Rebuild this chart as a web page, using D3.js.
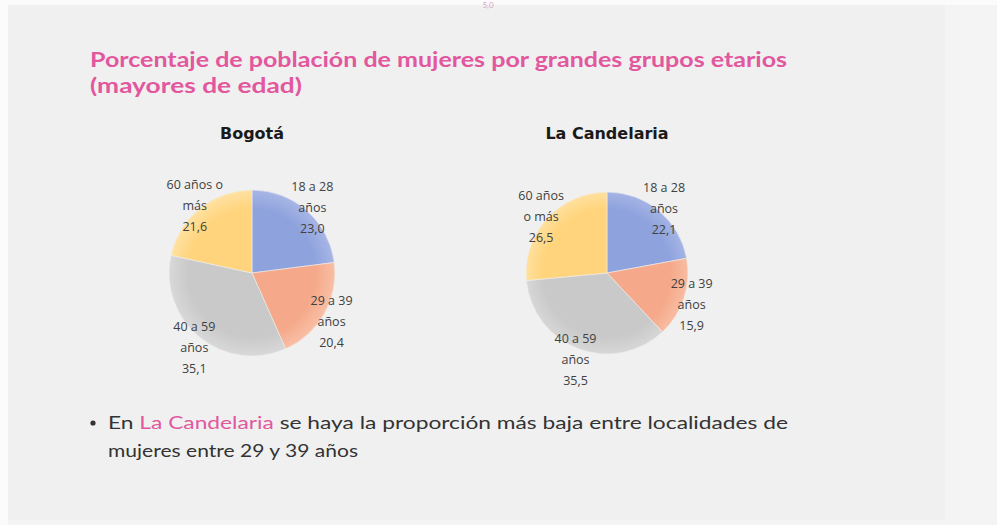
<!DOCTYPE html>
<html><head><meta charset="utf-8">
<script src="https://cdn.jsdelivr.net/npm/d3@7"></script>
<style>
html,body{margin:0;padding:0;background:#f4f4f4;}
svg{display:block;}
</style></head>
<body>
<script>
// ---- data ----
const groups = ["18 a 28 años", "29 a 39 años", "40 a 59 años", "60 años o más"];
const bogotaValues = [23.0, 20.4, 35.1, 21.6];
const candelariaValues = [22.1, 15.9, 35.5, 26.5];
const bogotaLabels = [["18 a 28", "años"], ["29 a 39", "años"], ["40 a 59", "años"], ["60 años o", "más"]];
const candelariaLabels = [["18 a 28", "años"], ["29 a 39", "años"], ["40 a 59", "años"], ["60 años", "o más"]];
const chartTitles = ["Bogotá", "La Candelaria"];
const titleLines = ["Porcentaje de población de mujeres por grandes grupos etarios", "(mayores de edad)"];
const bulletHighlight = "La Candelaria";

const W = 997, H = 525;
const svg = d3.select("body").append("svg").attr("width", W).attr("height", H);

// slide background
svg.append("rect").attr("x", 0).attr("y", 0).attr("width", W).attr("height", 5).attr("fill", "#fbfbfb");
svg.append("rect").attr("x", 0).attr("y", 0).attr("width", 8).attr("height", H).attr("fill", "#fbfbfb");
svg.append("rect").attr("x", 8).attr("y", 5).attr("width", 937).attr("height", 515).attr("fill", "#f0f0f0");

const colors = ["#8ea2dd", "#f5a98a", "#c9c9c9", "#ffd47c"];
const light = ["#aab8e6", "#f9c1a8", "#dadada", "#ffe3a6"];
const defs = svg.append("defs");
colors.forEach((c, i) => {
  const g = defs.append("radialGradient").attr("id", "g" + i).attr("gradientUnits", "userSpaceOnUse")
    .attr("cx", 0).attr("cy", 0).attr("r", 85);
  g.append("stop").attr("offset", "0%").attr("stop-color", c);
  g.append("stop").attr("offset", "75%").attr("stop-color", c);
  g.append("stop").attr("offset", "100%").attr("stop-color", light[i]);
});

// title
const title = svg.append("text").attr("x", 90).attr("y", 67)
  .attr("fill", "#e2579e").attr("font-family", "Lato, 'Noto Sans', sans-serif")
  .attr("font-weight", 700).attr("font-size", 20);
title.append("tspan").attr("x", 90).attr("y", 67).attr("textLength", 697).attr("lengthAdjust", "spacingAndGlyphs").text(titleLines[0]);
title.append("tspan").attr("x", 90).attr("y", 93).attr("textLength", 212).attr("lengthAdjust", "spacingAndGlyphs").text(titleLines[1]);

const fmt = v => d3.format(".1f")(v).replace(".", ",");
const pie = d3.pie().sort(null).value(d => d);

function drawPie(cx, cy, R, values, labels, name) {
  const g = svg.append("g").attr("transform", `translate(${cx},${cy})`);
  const arc = d3.arc().innerRadius(0).outerRadius(R);
  const labelArc = d3.arc().innerRadius(R * 1.1).outerRadius(R * 1.1);
  const arcs = pie(values);
  g.selectAll("path").data(arcs).join("path")
    .attr("d", arc).attr("fill", (d, i) => `url(#g${i})`)
    .attr("stroke", "#eeeeee").attr("stroke-width", 0.6);
  svg.append("text").attr("x", cx).attr("y", 139).attr("text-anchor", "middle")
    .attr("font-family", "'DejaVu Sans', sans-serif").attr("font-weight", 700)
    .attr("font-size", 16).attr("fill", "#1a1a1a").text(name);
  const lab = g.selectAll("text.lab").data(arcs).join("text").attr("class", "lab")
    .attr("text-anchor", "middle")
    .attr("font-family", "'Open Sans', sans-serif")
    .attr("font-size", 12.5).attr("fill", "#404040")
    .attr("transform", d => { const [x, y] = labelArc.centroid(d); return `translate(${x},${y})`; });
  lab.each(function (d, i) {
    const t = d3.select(this);
    const lines = labels[i].concat([fmt(values[i])]);
    lines.forEach((s, k) => t.append("tspan").attr("x", 0).attr("y", (k - 1) * 21 + 8).text(s));
  });
}
drawPie(252, 273, 83, bogotaValues, bogotaLabels, chartTitles[0]);
drawPie(607, 273, 81, candelariaValues, candelariaLabels, chartTitles[1]);

// bullet text
const bf = "Lato, 'Noto Sans', sans-serif";
svg.append("circle").attr("cx", 93).attr("cy", 423).attr("r", 2.6).attr("fill", "#333");
const b1 = svg.append("text").attr("x", 108).attr("y", 429).attr("font-family", bf).attr("font-size", 17).attr("fill", "#333")
  .attr("textLength", 680).attr("lengthAdjust", "spacingAndGlyphs");
b1.append("tspan").text("En ");
b1.append("tspan").attr("fill", "#e2579e").text(bulletHighlight);
b1.append("tspan").text(" se haya la proporción más baja entre localidades de");
svg.append("text").attr("x", 108).attr("y", 457).attr("font-family", bf).attr("font-size", 17).attr("fill", "#333")
  .attr("textLength", 250).attr("lengthAdjust", "spacingAndGlyphs")
  .text("mujeres entre 29 y 39 años");

// small mark at top
svg.append("text").attr("x", 488).attr("y", 8).attr("text-anchor", "middle").attr("font-size", 8)
  .attr("font-family", bf).attr("fill", "#d9a0bf").text("5,0");
</script>
</body></html>
